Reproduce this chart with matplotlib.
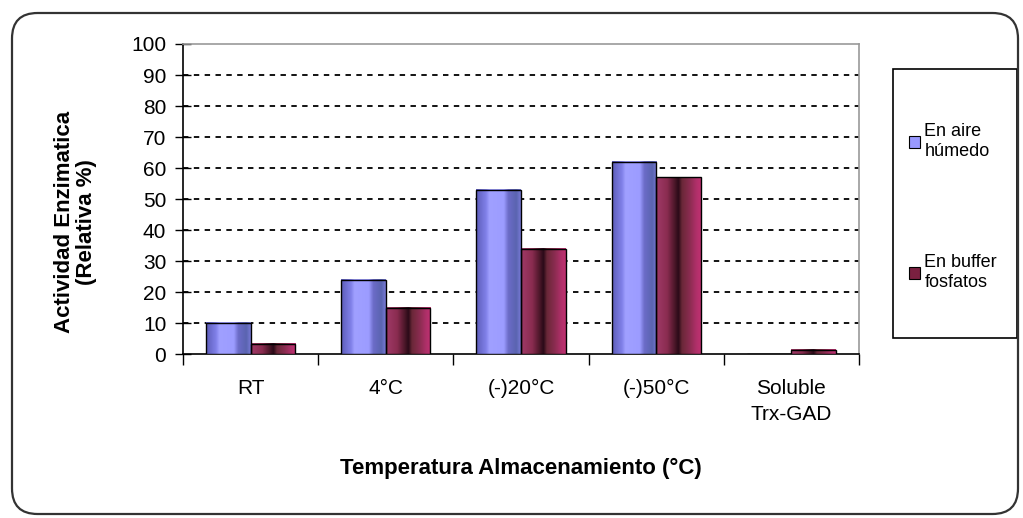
import numpy as np
import matplotlib
matplotlib.use('Agg')
import matplotlib.pyplot as plt
from matplotlib.colors import LinearSegmentedColormap
from matplotlib.patches import FancyBboxPatch, Rectangle, Patch

plt.rcParams['font.family'] = ['Liberation Sans', 'DejaVu Sans']

# === data ===
categories = ['RT', '4°C', '(-)20°C', '(-)50°C', 'Soluble\nTrx-GAD']
aire_humedo = [10, 24, 53, 62, 0]
buffer_fosfatos = [3.3, 15, 34, 57, 1.4]
series_names = ['En aire\nhúmedo', 'En buffer\nfosfatos']
y_ticks = list(range(0, 101, 10))

# excel-ish cylinder shading
blue_cmap = LinearSegmentedColormap.from_list('blue_cyl', [
    (0.0, '#5c5cb8'), (0.22, '#8080e8'), (0.3, '#a0a0ff'), (0.62, '#9c9cff'),
    (0.72, '#6c6cc8'), (0.9, '#5a64b0'), (1.0, '#7a7ad8')])
red_cmap = LinearSegmentedColormap.from_list('red_cyl', [
    (0.0, '#a03a68'), (0.25, '#8a2c50'), (0.42, '#4a1628'), (0.5, '#2a0a18'),
    (0.58, '#6a2838'), (0.75, '#8a2c50'), (0.9, '#b0306a'), (1.0, '#c03070')])

fig = plt.figure(figsize=(10.23, 5.18), dpi=100)
ax = fig.add_axes([183 / 1023, 1 - 354.3 / 518, (859 - 183) / 1023, (354.3 - 44) / 518])

x = np.arange(len(categories))
w = 0.33
grad = np.linspace(0, 1, 256).reshape(1, -1)

for vals, off, cmap in [(aire_humedo, -w / 2, blue_cmap), (buffer_fosfatos, w / 2, red_cmap)]:
    bars = ax.bar(x + off, vals, width=w, facecolor='none', edgecolor='black',
                  linewidth=1.0, zorder=4)
    for b in bars:
        if b.get_height() <= 0:
            continue
        bx, bw, bh = b.get_x(), b.get_width(), b.get_height()
        ax.imshow(grad, extent=[bx, bx + bw, 0, bh], aspect='auto', cmap=cmap,
                  zorder=3, interpolation='bilinear')

ax.set_xlim(-0.5, len(categories) - 0.5)
ax.set_ylim(0, 100)

# dashed grid
for yv in y_ticks[1:-1]:
    ax.axhline(yv, color='black', linestyle=(0, (3, 3)), linewidth=1.3, zorder=1)

ax.set_yticks(y_ticks)
ax.tick_params(axis='y', direction='inout', length=12, width=1, labelsize=15, pad=6)
ax.set_xticks(x)
ax.set_xticklabels(categories, fontsize=15, linespacing=1.45)
ax.tick_params(axis='x', which='major', length=0, pad=18)
ax.set_xticks(np.arange(-0.5, len(categories)), minor=True)
ax.tick_params(axis='x', which='minor', direction='out', length=8, width=1)

ax.spines['left'].set_color('black')
ax.spines['bottom'].set_color('black')
ax.spines['top'].set_color('#999999')
ax.spines['right'].set_color('#999999')
for s in ax.spines.values():
    s.set_linewidth(1.2)

ax.set_ylabel('Actividad Enzimatica\n(Relativa %)', fontsize=16, fontweight='bold',
              linespacing=1.1)
ax.yaxis.set_label_coords(-0.127, 0.426)
ax.set_xlabel('Temperatura Almacenamiento (°C)', fontsize=16, fontweight='bold')
ax.xaxis.set_label_coords(0.5, -0.335)

# legend box
fig.patches.append(Rectangle((893 / 1023, 1 - 338 / 518), (1017 - 893) / 1023,
                             (338 - 69) / 518, transform=fig.transFigure,
                             facecolor='white', edgecolor='black', linewidth=1.2))
handles = [Patch(facecolor='#9999ff', edgecolor='black', linewidth=0.8),
           Patch(facecolor='#7a2040', edgecolor='black', linewidth=0.8)]
leg = fig.legend(handles, series_names, loc='upper left',
                 bbox_to_anchor=(900 / 1023, 1 - 114 / 518), frameon=False,
                 fontsize=13, handlelength=0.6, handleheight=0.6, handletextpad=0.25,
                 labelspacing=5.2, borderpad=0)
for t in leg.get_texts():
    t.set_linespacing(1.25)

# outer rounded frame
fig.patches.append(FancyBboxPatch((12 / 1023, 4 / 518), (1006 / 1023), (501 / 518),
                                  boxstyle='round,pad=0,rounding_size=0.025',
                                  transform=fig.transFigure, facecolor='none',
                                  edgecolor='#333333', linewidth=1.6,
                                  mutation_aspect=1023 / 518))

fig.savefig('out.png', dpi=100)
